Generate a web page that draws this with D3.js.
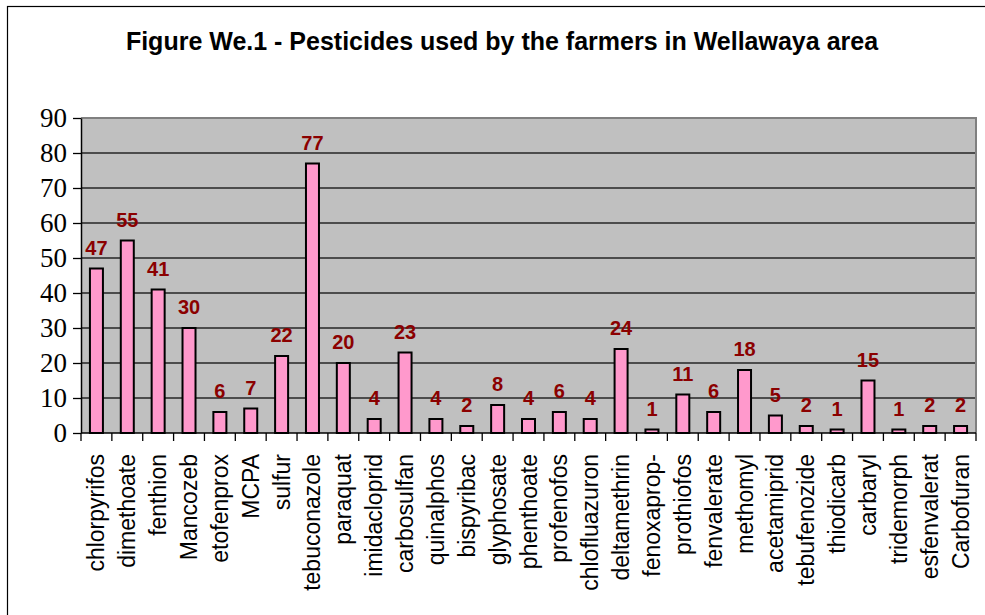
<!DOCTYPE html>
<html>
<head>
<meta charset="utf-8">
<script src="https://cdn.jsdelivr.net/npm/d3@7"></script>
<style>
  html, body { margin: 0; padding: 0; background: #fff; }
  svg { display: block; }
</style>
</head>
<body>
<svg id="chart" width="985" height="615"></svg>
<script>
// Pesticide names and number of farmers using each one
const pesticides = [
  "chlorpyrifos", "dimethoate", "fenthion", "Mancozeb", "etofenprox", "MCPA",
  "sulfur", "tebuconazole", "paraquat", "imidacloprid", "carbosulfan", "quinalphos",
  "bispyribac", "glyphosate", "phenthoate", "profenofos", "chlofluazuron", "deltamethrin",
  "fenoxaprop-", "prothiofos", "fenvalerate", "methomyl", "acetamiprid", "tebufenozide",
  "thiodicarb", "carbaryl", "tridemorph", "esfenvalerat", "Carbofuran"
];
const farmers = [
  47, 55, 41, 30, 6, 7,
  22, 77, 20, 4, 23, 4,
  2, 8, 4, 6, 4, 24,
  1, 11, 6, 18, 5, 2,
  1, 15, 1, 2, 2
];
const yTicks = [0, 10, 20, 30, 40, 50, 60, 70, 80, 90];
const chartTitle = "Figure We.1 - Pesticides used by the farmers in Wellawaya area";

const svg = d3.select("#chart");
const plot = { left: 81, right: 976, top: 118, bottom: 433 };

// outer chart frame
svg.append("rect")
  .attr("x", 7.5).attr("y", 6.5)
  .attr("width", 985).attr("height", 620)
  .attr("fill", "#fff").attr("stroke", "#000").attr("stroke-width", 1.2);

svg.append("text")
  .attr("x", 502).attr("y", 50)
  .attr("text-anchor", "middle")
  .attr("font-family", "Liberation Sans, Arial, sans-serif")
  .attr("font-weight", "bold").attr("font-size", 25)
  .attr("fill", "#000")
  .text(chartTitle);

const x = d3.scaleBand().domain(pesticides).range([plot.left, plot.right]).paddingInner(0).paddingOuter(0);
const y = d3.scaleLinear().domain([0, 90]).range([plot.bottom, plot.top]);

// plot area background
svg.append("rect")
  .attr("x", plot.left).attr("y", plot.top)
  .attr("width", plot.right - plot.left).attr("height", plot.bottom - plot.top)
  .attr("fill", "#C0C0C0");

// horizontal gridlines
svg.append("g").selectAll("line")
  .data(yTicks.filter(t => t > 0 && t < 90))
  .join("line")
  .attr("x1", plot.left).attr("x2", plot.right)
  .attr("y1", d => y(d)).attr("y2", d => y(d))
  .attr("stroke", "#262626").attr("stroke-width", 1.3);

// top and right plot border
svg.append("path")
  .attr("d", `M${plot.left},${plot.top}H${plot.right}V${plot.bottom}`)
  .attr("fill", "none").attr("stroke", "#808080").attr("stroke-width", 2);

// bars
const barW = 13;
svg.append("g").selectAll("rect")
  .data(farmers)
  .join("rect")
  .attr("x", (d, i) => x(pesticides[i]) + x.bandwidth() / 2 - barW / 2)
  .attr("y", d => y(d))
  .attr("width", barW)
  .attr("height", d => y(0) - y(d))
  .attr("fill", "#FF99CC")
  .attr("stroke", "#000").attr("stroke-width", 2);

// value labels
svg.append("g").selectAll("text")
  .data(farmers)
  .join("text")
  .attr("x", (d, i) => x(pesticides[i]) + x.bandwidth() / 2)
  .attr("y", d => y(d) - 14)
  .attr("text-anchor", "middle")
  .attr("font-family", "Liberation Sans, Arial, sans-serif")
  .attr("font-weight", "bold").attr("font-size", 20)
  .attr("fill", "#8B0000")
  .text(d => d);

// y axis
const yAxis = svg.append("g")
  .attr("transform", `translate(${plot.left},0)`)
  .call(d3.axisLeft(y).tickValues(yTicks).tickSize(8).tickPadding(6).tickSizeOuter(0));
yAxis.select(".domain").attr("stroke", "#000").attr("stroke-width", 1.5);
yAxis.selectAll(".tick line").attr("stroke", "#000").attr("stroke-width", 1.3);
yAxis.selectAll(".tick text")
  .attr("font-family", "Liberation Serif, Times New Roman, serif")
  .attr("font-size", 27).attr("fill", "#000");

// x axis: ticks at category boundaries
const xAxisG = svg.append("g").attr("transform", `translate(0,${plot.bottom})`);
xAxisG.append("line")
  .attr("x1", plot.left).attr("x2", plot.right)
  .attr("stroke", "#000").attr("stroke-width", 1.5);
xAxisG.selectAll("line.tick")
  .data(pesticides.map(p => x(p)).concat([plot.right]))
  .join("line").attr("class", "tick")
  .attr("x1", d => d).attr("x2", d => d)
  .attr("y1", 0).attr("y2", 8)
  .attr("stroke", "#000").attr("stroke-width", 1.3);

// rotated category labels
xAxisG.selectAll("text")
  .data(pesticides)
  .join("text")
  .attr("transform", d => `translate(${x(d) + x.bandwidth() / 2 + 8},21) rotate(-90)`)
  .attr("text-anchor", "end")
  .attr("font-family", "Liberation Sans, Arial, sans-serif")
  .attr("font-size", 23).attr("fill", "#000")
  .text(d => d);
</script>
</body>
</html>
